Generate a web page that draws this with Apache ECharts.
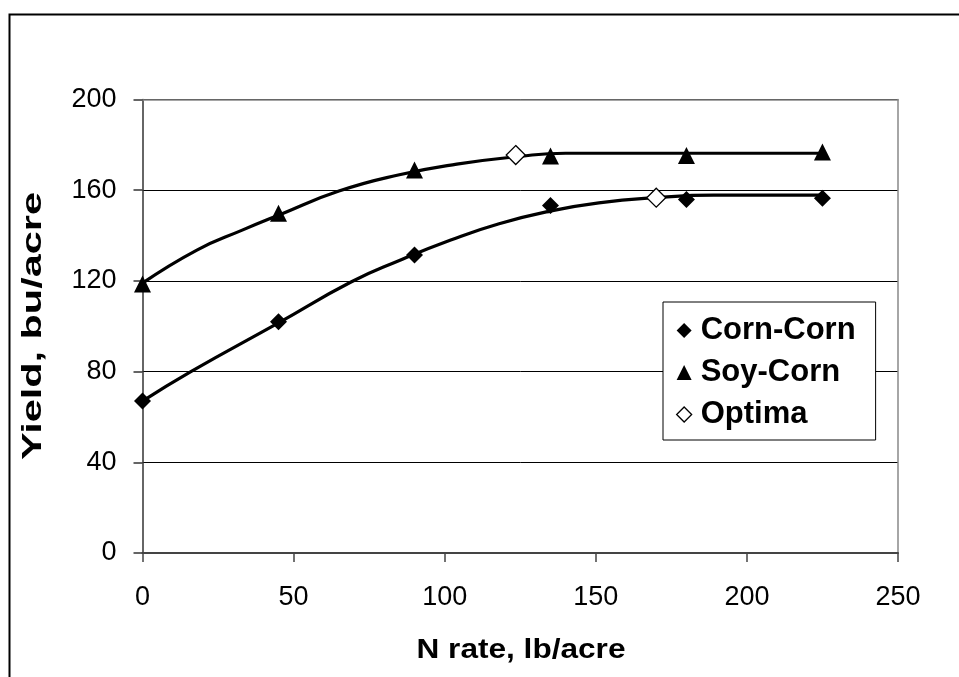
<!DOCTYPE html>
<html>
<head>
<meta charset="utf-8">
<script src="https://cdn.jsdelivr.net/npm/echarts@6/dist/echarts.min.js"></script>
<style>
html,body{margin:0;padding:0;background:#fff;}
#chart{width:959px;height:677px;}
</style>
</head>
<body>
<div id="chart"></div>
<script>
// Measured data points
var nRates = [0, 45, 90, 135, 180, 225];
var cornCornYield = [67, 102, 131.4, 153.3, 155.9, 156.4];
var soyCornYield = [118.6, 149.8, 168.9, 175.1, 175.3, 176.9];
// Economic optima
var optimaN = [123.5, 170];
var optimaYield = [175.5, 156.7];
// Fitted response curves
var cornFitN = [0, 16, 45, 69, 85, 102, 118, 135, 151, 170, 189, 225];
var cornFitY = [67, 80, 101.5, 119.5, 129, 138, 145.2, 150.8, 154.4, 156.7, 157.8, 157.8];
var soyFitN = [0, 18, 33, 45, 65, 85, 104, 124, 140, 225];
var soyFitY = [119, 133.6, 142.4, 149, 159.6, 166.8, 171.5, 174.8, 176.3, 176.3];
// Axis ticks and titles
var xTicks = [0, 50, 100, 150, 200, 250];
var yTicks = [0, 40, 80, 120, 160, 200];
var xTitle = 'N rate, lb/acre';
var yTitle = 'Yield, bu/acre';

function pairs(xs, ys) { return xs.map(function (x, i) { return [x, ys[i]]; }); }

var chart = echarts.init(document.getElementById('chart'), null, {renderer: 'canvas'});
var FONT = '"Liberation Sans", Arial, sans-serif';

var option = {
  backgroundColor: '#fff',
  animation: false,
  graphic: [{
    type: 'rect', left: 7, top: 12, z: -1, silent: true,
    shape: {width: 1000, height: 700},
    style: {fill: 'none', stroke: '#000', lineWidth: 2}
  }, {
    type: 'text', x: 33, y: 326, rotation: Math.PI / 2, scaleX: 1.48, silent: true,
    style: {text: yTitle, fontFamily: FONT, fontWeight: 'bold', fontSize: 28, fill: '#000',
      align: 'center', verticalAlign: 'middle'}
  }, {
    type: 'text', x: 521, y: 651, scaleX: 1.17, silent: true,
    style: {text: xTitle, fontFamily: FONT, fontWeight: 'bold', fontSize: 27, fill: '#000',
      align: 'center', verticalAlign: 'middle'}
  }],
  grid: {left: 142.5, right: 61, top: 99.5, bottom: 124, containLabel: false},
  legend: {
    orient: 'vertical',
    left: 663, top: 302,
    backgroundColor: '#fff',
    borderColor: '#000', borderWidth: 1,
    padding: [13, 20, 10, 13],
    itemGap: 11,
    itemWidth: 15, itemHeight: 15,
    textStyle: {fontFamily: FONT, fontWeight: 'bold', fontSize: 31, color: '#000', padding: [0, 0, 0, 4]},
    data: [
      {name: 'Corn-Corn', icon: 'diamond', itemStyle: {color: '#000'}},
      {name: 'Soy-Corn', icon: 'triangle', itemStyle: {color: '#000'}},
      {name: 'Optima', icon: 'diamond', itemStyle: {color: '#fff', borderColor: '#000', borderWidth: 1.3}}
    ]
  },
  xAxis: [{
    type: 'value', min: 0, max: 250, interval: 50,
    axisLine: {show: true, onZero: false, lineStyle: {color: '#444', width: 2}},
    axisTick: {show: true, inside: false, length: 9, lineStyle: {color: '#444', width: 1.5}},
    axisLabel: {fontFamily: FONT, fontSize: 27, color: '#000', margin: 31,
      formatter: function (v) { return xTicks.indexOf(v) >= 0 ? String(v) : ''; }},
    splitLine: {show: false}
  }, {
    type: 'value', min: 0, max: 250, interval: 50, position: 'top',
    axisLine: {show: true, onZero: false, lineStyle: {color: '#888', width: 1.5}},
    axisTick: {show: false}, axisLabel: {show: false}, splitLine: {show: false}
  }],
  yAxis: [{
    type: 'value', min: 0, max: 200, interval: 40,
    axisLine: {show: true, onZero: false, lineStyle: {color: '#333', width: 1.5}},
    axisTick: {show: true, inside: false, length: 9, lineStyle: {color: '#333', width: 1.5}},
    axisLabel: {fontFamily: FONT, fontSize: 27, color: '#000', margin: 26,
      formatter: function (v) { return yTicks.indexOf(v) >= 0 ? String(v) : ''; }},
    splitLine: {show: true, lineStyle: {color: '#000', width: 1}}
  }, {
    type: 'value', min: 0, max: 200, interval: 40, position: 'right',
    axisLine: {show: true, onZero: false, lineStyle: {color: '#888', width: 1.5}},
    axisTick: {show: false}, axisLabel: {show: false}, splitLine: {show: false}
  }],
  series: [
    {
      name: 'Corn-Corn fit', type: 'line', smooth: 0.5,
      showSymbol: false, symbol: 'none', z: 2,
      lineStyle: {color: '#000', width: 3.2},
      data: pairs(cornFitN, cornFitY)
    },
    {
      name: 'Soy-Corn fit', type: 'line', smooth: 0.5,
      showSymbol: false, symbol: 'none', z: 2,
      lineStyle: {color: '#000', width: 3.2},
      data: pairs(soyFitN, soyFitY)
    },
    {
      name: 'Corn-Corn', type: 'scatter', symbol: 'diamond', symbolSize: 17, z: 3,
      itemStyle: {color: '#000', opacity: 1},
      data: pairs(nRates, cornCornYield)
    },
    {
      name: 'Soy-Corn', type: 'scatter', symbol: 'triangle', symbolSize: 17, z: 3,
      itemStyle: {color: '#000', opacity: 1},
      data: pairs(nRates, soyCornYield)
    },
    {
      name: 'Optima', type: 'scatter', symbol: 'diamond', symbolSize: 19, z: 4,
      itemStyle: {color: '#fff', borderColor: '#000', borderWidth: 1.3, opacity: 1},
      data: pairs(optimaN, optimaYield)
    }
  ]
};
chart.setOption(option);
</script>
</body>
</html>
